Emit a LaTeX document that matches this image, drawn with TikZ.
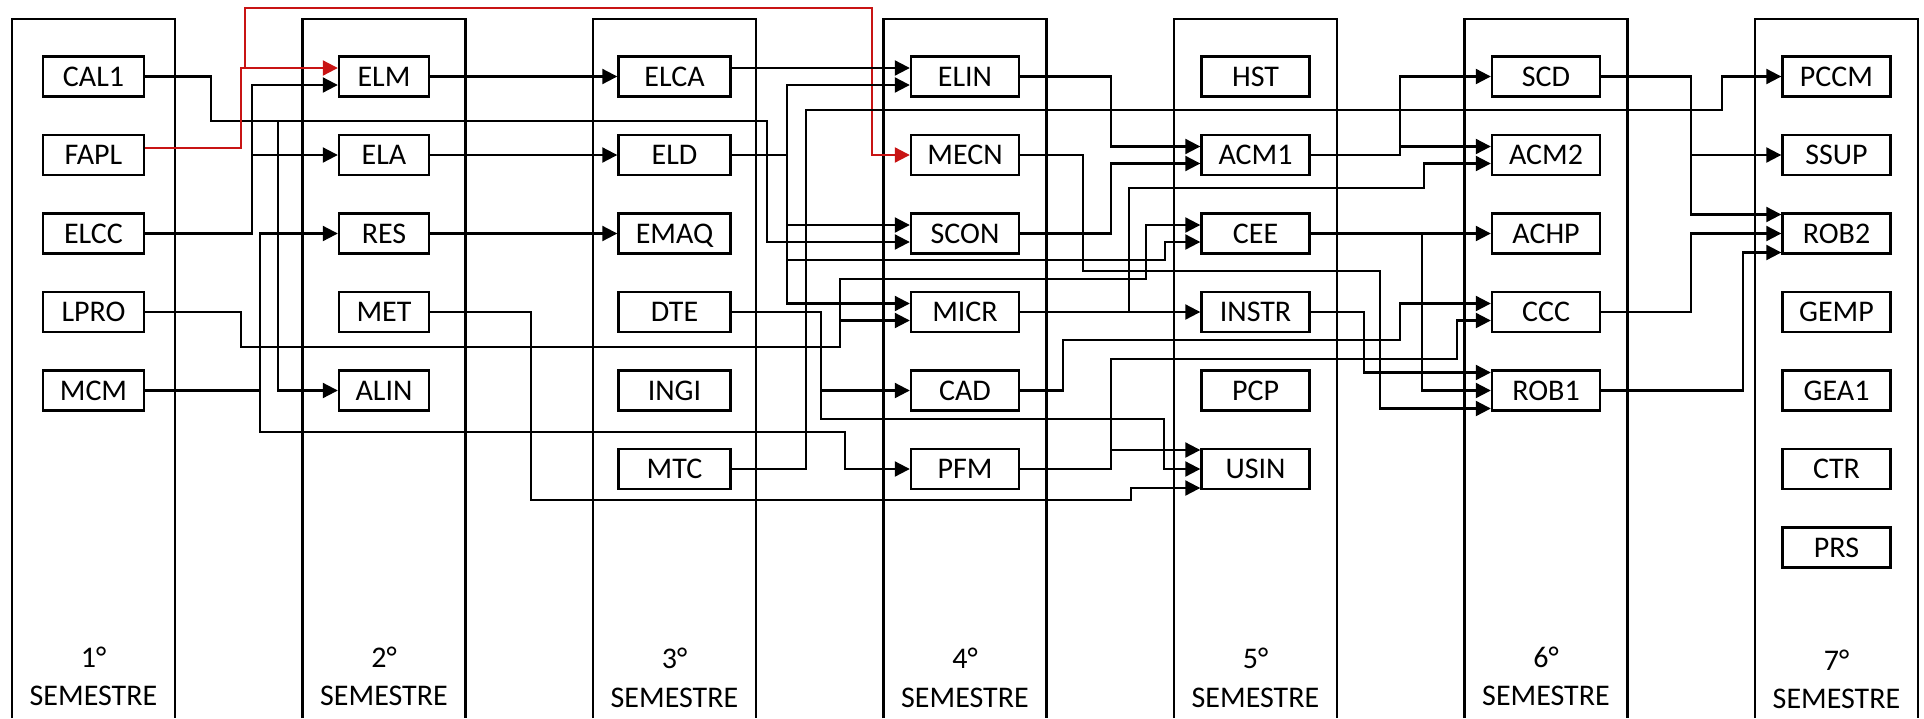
\documentclass[tikz,border=0pt]{standalone}
\usepackage{fontspec}
\setmainfont{Carlito}
\usetikzlibrary{arrows.meta}
\definecolor{redc}{RGB}{200,20,20}
\begin{document}
\begin{tikzpicture}[x=1pt,y=-1pt,
  colframe/.style={line width=2.1pt},
  course/.style={draw, fill=white, line width=2.4pt, minimum height=40pt, inner sep=0pt,
    text height=19pt, text depth=0pt, font=\fontsize{30pt}{36pt}\selectfont},
  wa/.style={minimum width=101pt},
  wb/.style={minimum width=90pt},
  wc/.style={minimum width=112pt},
  wd/.style={minimum width=108pt},
  semlab/.style={anchor=base, inner sep=0pt, font=\fontsize{30pt}{36pt}\selectfont},
  conn/.style={line width=2.1pt, -{Triangle[length=15pt,width=15pt]}},
  redconn/.style={conn, draw=redc}
]
\useasboundingbox (0,0) rectangle (1924,718);
% semester columns
\foreach \i in {0,...,6} {
  \draw[colframe] ({12+\i*290.5},718) -- ({12+\i*290.5},19) -- ({175+\i*290.5},19) -- ({175+\i*290.5},718);
}
% semester labels
\node[semlab] (n1) at (93.5,667) {1°};   \node[semlab] (t1) at (93.5,705) {SEMESTRE};
\node[semlab] (n2) at (384,667) {2°};    \node[semlab] (t2) at (384,705) {SEMESTRE};
\node[semlab] (n3) at (674.5,668) {3°};  \node[semlab] (t3) at (674.5,707) {SEMESTRE};
\node[semlab] (n4) at (965,668) {4°};    \node[semlab] (t4) at (965,707) {SEMESTRE};
\node[semlab] (n5) at (1255.5,668) {5°}; \node[semlab] (t5) at (1255.5,707) {SEMESTRE};
\node[semlab] (n6) at (1546,667) {6°};   \node[semlab] (t6) at (1546,705) {SEMESTRE};
\node[semlab] (n7) at (1836.5,670) {7°}; \node[semlab] (t7) at (1836.5,708) {SEMESTRE};
% 1st semester
\node[course,wa] (CAL1) at (93.5,76.5) {CAL1};
\node[course,wa] (FAPL) at (93.5,155) {FAPL};
\node[course,wa] (ELCC) at (93.5,233.5) {ELCC};
\node[course,wa] (LPRO) at (93.5,312) {LPRO};
\node[course,wa] (MCM) at (93.5,390.5) {MCM};
% 2nd
\node[course,wb] (ELM) at (384,76.5) {ELM};
\node[course,wb] (ELA) at (384,155) {ELA};
\node[course,wb] (RES) at (384,233.5) {RES};
\node[course,wb] (MET) at (384,312) {MET};
\node[course,wb] (ALIN) at (384,390.5) {ALIN};
% 3rd
\node[course,wc] (ELCA) at (674.5,76.5) {ELCA};
\node[course,wc] (ELD) at (674.5,155) {ELD};
\node[course,wc] (EMAQ) at (674.5,233.5) {EMAQ};
\node[course,wc] (DTE) at (674.5,312) {DTE};
\node[course,wc] (INGI) at (674.5,390.5) {INGI};
\node[course,wc] (MTC) at (674.5,469) {MTC};
% 4th
\node[course,wd] (ELIN) at (965,76.5) {ELIN};
\node[course,wd] (MECN) at (965,155) {MECN};
\node[course,wd] (SCON) at (965,233.5) {SCON};
\node[course,wd] (MICR) at (965,312) {MICR};
\node[course,wd] (CAD) at (965,390.5) {CAD};
\node[course,wd] (PFM) at (965,469) {PFM};
% 5th
\node[course,wd] (HST) at (1255.5,76.5) {HST};
\node[course,wd] (ACM1) at (1255.5,155) {ACM1};
\node[course,wd] (CEE) at (1255.5,233.5) {CEE};
\node[course,wd] (INSTR) at (1255.5,312) {INSTR};
\node[course,wd] (PCP) at (1255.5,390.5) {PCP};
\node[course,wd] (USIN) at (1255.5,469) {USIN};
% 6th
\node[course,wd] (SCD) at (1546,76.5) {SCD};
\node[course,wd] (ACM2) at (1546,155) {ACM2};
\node[course,wd] (ACHP) at (1546,233.5) {ACHP};
\node[course,wd] (CCC) at (1546,312) {CCC};
\node[course,wd] (ROB1) at (1546,390.5) {ROB1};
% 7th
\node[course,wd] (PCCM) at (1836.5,76.5) {PCCM};
\node[course,wd] (SSUP) at (1836.5,155) {SSUP};
\node[course,wd] (ROB2) at (1836.5,233.5) {ROB2};
\node[course,wd] (GEMP) at (1836.5,312) {GEMP};
\node[course,wd] (GEA1) at (1836.5,390.5) {GEA1};
\node[course,wd] (CTR) at (1836.5,469) {CTR};
\node[course,wd] (PRS) at (1836.5,547.5) {PRS};
% connectors from 1st semester
\draw[conn] (CAL1.east) -| (211,121) -- (767,121) |- ([yshift=-8.5pt]SCON.west);
\draw[conn] (CAL1.east) -| (211,121) -- (278,121) |- (ALIN.west);
\draw[redconn] ([yshift=7pt]FAPL.east) -| (241,68) -- ([yshift=8.5pt]ELM.west);
\draw[redconn] ([yshift=7pt]FAPL.east) -| (241,68) -- (245,68) -- (245,8) -- (872,8) |- (MECN.west);
\draw[conn] (ELCC.east) -| (252,85) -- ([yshift=-8.5pt]ELM.west);
\draw[conn] (ELCC.east) -| (252,155) -- (ELA.west);
\draw[conn] (MCM.east) -| (260,233.5) -- (RES.west);
\draw[conn] (MCM.east) -| (260,432) -- (845,432) |- (PFM.west);
\draw[conn] (LPRO.east) -| (241,347) -- (840,347) |- ([yshift=-8.5pt]MICR.west);
\draw[conn] (LPRO.east) -| (241,347) -- (840,347) -- (840,279) -- (1146,279) |- ([yshift=8.5pt]CEE.west);
% 2nd semester
\draw[conn] (ELM.east) -- (ELCA.west);
\draw[conn] (ELA.east) -- (ELD.west);
\draw[conn] (RES.east) -- (EMAQ.west);
\draw[conn] (MET.east) -| (531,500) -- (1131,500) |- ([yshift=-19pt]USIN.west);
% 3rd semester
\draw[conn] ([yshift=8.5pt]ELCA.east) -- ([yshift=8.5pt]ELIN.west);
\draw[conn] (ELD.east) -| (787,85) -- ([yshift=-8.5pt]ELIN.west);
\draw[conn] (ELD.east) -| (787,225) -- ([yshift=8.5pt]SCON.west);
\draw[conn] (ELD.east) -| (787,260) -- (1165,260) |- ([yshift=-8.5pt]CEE.west);
\draw[conn] (ELD.east) -| (787,303.5) -- ([yshift=8.5pt]MICR.west);
\draw[conn] (DTE.east) -| (821,390.5) -- (CAD.west);
\draw[conn] (DTE.east) -| (821,419) -- (1164,419) |- (USIN.west);
\draw[conn] (MTC.east) -| (806,110) -- (1722,110) |- (PCCM.west);
% 4th semester
\draw[conn] (ELIN.east) -| (1111,146.5) -- ([yshift=8.5pt]ACM1.west);
\draw[conn] (SCON.east) -| (1111,163.5) -- ([yshift=-8.5pt]ACM1.west);
\draw[conn] (MECN.east) -| (1083,271) -- (1380,271) |- ([yshift=-18pt]ROB1.west);
\draw[conn] (MICR.east) -- (INSTR.west);
\draw[conn] (MICR.east) -| (1129,188) -- (1424,188) |- ([yshift=-8.5pt]ACM2.west);
\draw[conn] (CAD.east) -| (1063,340) -- (1400,340) |- ([yshift=8.5pt]CCC.west);
\draw[conn] (PFM.east) -| (1111,450) -- ([yshift=19pt]USIN.west);
\draw[conn] (PFM.east) -| (1111,359) -- (1457,359) |- ([yshift=-8.5pt]CCC.west);
% 5th semester
\draw[conn] (ACM1.east) -| (1400,76.5) -- (SCD.west);
\draw[conn] (ACM1.east) -| (1400,146.5) -- ([yshift=8.5pt]ACM2.west);
\draw[conn] (CEE.east) -- (ACHP.west);
\draw[conn] (CEE.east) -| (1422,390.5) -- (ROB1.west);
\draw[conn] (INSTR.east) -| (1364,372.5) -- ([yshift=18pt]ROB1.west);
% 6th semester
\draw[conn] (SCD.east) -| (1691,155) -- (SSUP.west);
\draw[conn] (SCD.east) -| (1691,214.5) -- ([yshift=19pt]ROB2.west);
\draw[conn] (CCC.east) -| (1691,233.5) -- (ROB2.west);
\draw[conn] (ROB1.east) -| (1743,252.5) -- ([yshift=-19pt]ROB2.west);
\end{tikzpicture}
\end{document}
